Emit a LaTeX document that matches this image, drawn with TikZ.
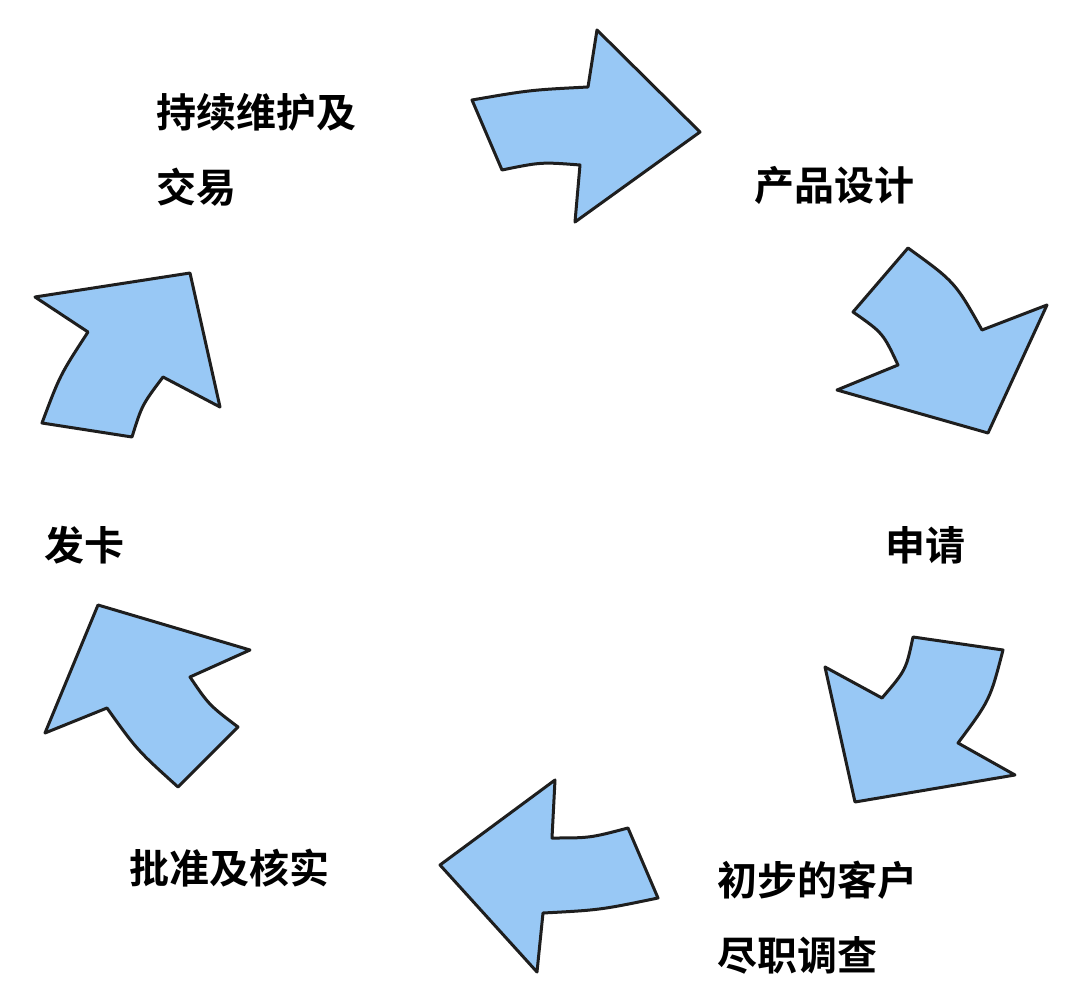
\documentclass[tikz,border=0pt]{standalone}
\usepackage{fontspec}
\newfontfamily\cjk{Noto Sans CJK SC}[BoldFont={Noto Sans CJK SC Bold}]
\definecolor{arrowfill}{RGB}{152,200,245}
\definecolor{arrowline}{RGB}{30,30,30}
\begin{document}
\begin{tikzpicture}[x=1pt,y=-1pt,
  blockarrow/.style={fill=arrowfill,draw=arrowline,line width=3pt,line join=round},
  lbl/.style={anchor=west,inner sep=0pt,align=left,font=\cjk\bfseries\fontsize{40}{75}\selectfont}]
\useasboundingbox (0,0) rectangle (1080,1003);
\fill[white] (0,0) rectangle (1080,1003);
% top arrow (right)
\draw[blockarrow] (472,100) .. controls (530,90) .. (588,87) -- (597,30) -- (700,132) -- (575,222) -- (580,165) .. controls (541,162) .. (502,170) -- cycle;
% upper right arrow
\draw[blockarrow] (908,248) .. controls (955,282) .. (982,330) -- (1047,305) -- (988,433) -- (837,390) -- (898,365) .. controls (883,333) .. (853,312) -- cycle;
% lower right arrow
\draw[blockarrow] (825,667) -- (882,698) .. controls (906,670) .. (913,637) -- (1003,650) .. controls (990,700) .. (958,743) -- (1015,775) -- (855,802) -- cycle;
% bottom arrow (left)
\draw[blockarrow] (555,780) -- (552,838) .. controls (590,838) .. (628,828) -- (658,898) .. controls (600,910) .. (543,913) -- (537,972) -- (440,865) -- cycle;
% lower left arrow
\draw[blockarrow] (98,605) -- (250,650) -- (190,677) .. controls (209,705) .. (238,727) -- (178,787) .. controls (137,750) .. (107,708) -- (45,733) -- cycle;
% upper left arrow
\draw[blockarrow] (35,297) -- (190,273) -- (220,407) -- (163,377) .. controls (142,405) .. (132,437) -- (42,423) .. controls (60,375) .. (88,332) -- cycle;
% labels
\node[lbl] (l1) at (156,150) {持续维护及\\交易};
\node[lbl] (l2) at (754,185) {产品设计};
\node[lbl] (l3) at (885,545) {申请};
\node[lbl] (l4) at (717,918) {初步的客户\\尽职调查};
\node[lbl] (l5) at (129,868) {批准及核实};
\node[lbl] (l6) at (44,545) {发卡};
\end{tikzpicture}
\end{document}
